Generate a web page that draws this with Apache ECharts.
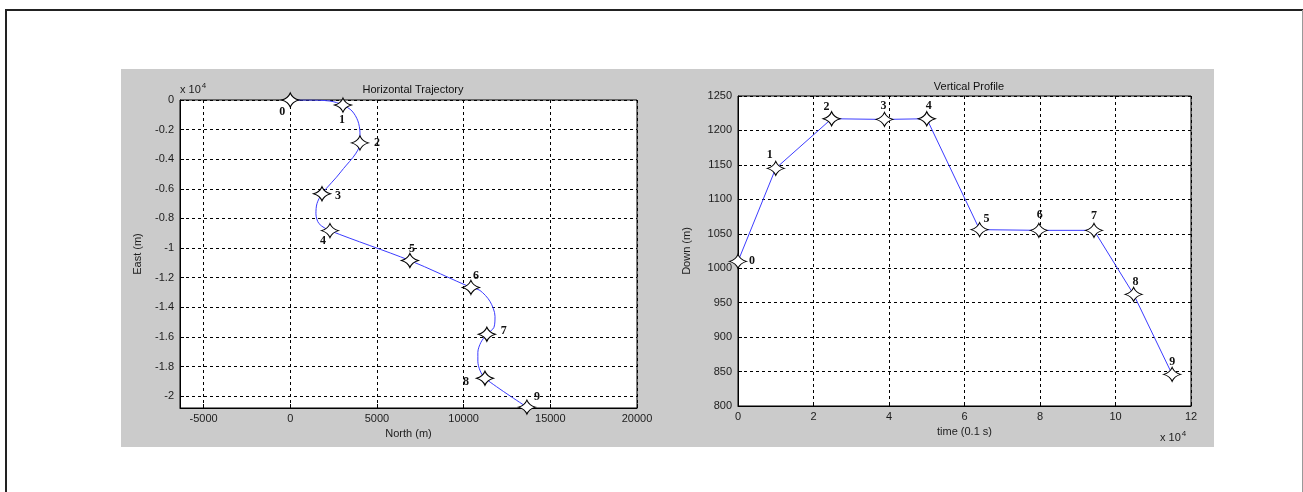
<!DOCTYPE html>
<html>
<head>
<meta charset="utf-8">
<script src="https://cdn.jsdelivr.net/npm/echarts@6/dist/echarts.min.js"></script>
<style>html,body{margin:0;padding:0;background:#fff;}#c{width:1303px;height:492px;}</style>
</head>
<body>
<div id="c"></div>
<script>
// ---- Data ----
const wpLabels = ['0','1','2','3','4','5','6','7','8','9'];
// Horizontal trajectory waypoints: North (m), East (x1e4 m)
const hWpNorth = [0, 3040, 4020, 1830, 2290, 6900, 10420, 11340, 11230, 13650];
const hWpEast  = [0, -0.034, -0.29, -0.633, -0.882, -1.084, -1.266, -1.582, -1.879, -2.074];
// Horizontal trajectory path
const hPathNorth = [0, 850, 2290, 3040, 3560, 3900, 4020, 4020, 2920, 1830, 1540, 1480, 1660, 2290, 6900, 10420, 10940, 11520, 11810, 11750, 11340, 11000, 10820, 10820, 10940, 11230, 13650];
const hPathEast  = [0, 0, -0.007, -0.034, -0.074, -0.141, -0.222, -0.29, -0.485, -0.633, -0.70, -0.768, -0.835, -0.882, -1.084, -1.266, -1.286, -1.36, -1.461, -1.535, -1.582, -1.636, -1.704, -1.764, -1.825, -1.879, -2.074];
// Vertical profile: time (x1e4, 0.1 s), Down (m)
const vTime = [0, 1.0, 2.48, 3.88, 5.0, 6.4, 7.97, 9.43, 10.48, 11.5];
const vDown = [1010, 1145, 1217, 1216, 1217, 1056, 1055, 1055, 962, 846];
// Tick labels
const hNorthTicks = [-5000, 0, 5000, 10000, 15000, 20000];
const hEastTicks = [0, -0.2, -0.4, -0.6, -0.8, -1, -1.2, -1.4, -1.6, -1.8, -2];

// ---- Styles ----
const hLabelOffsets = [[-8,12],[-1,15],[17,0],[16,2],[-7,10],[2,-12],[5,-12],[17,-3],[-19,4],[10,-10]];
const vLabelOffsets = [[14,0],[-6,-13],[-5,-12],[-1,-14],[2,-13],[7,-11],[1,-15],[0,-14],[2,-12],[0,-12]];
const STAR = 'path://M0,-8 Q2,-2 8,0 Q2,2 0,8 Q-2,2 -8,0 Q-2,-2 0,-8 Z';
const FONT = 'Liberation Sans, Arial, sans-serif';
const lineColor = '#3c3cff';
const tickColor = '#1c1c1c';
const gridDash = {color:'#000', type:[3,3], width:1};
const plain = v => String(v);

function wpData(xs, ys, offs){
  return xs.map((x,i)=>({value:[x, ys[i]], label:{offset: offs[i]}, name: wpLabels[i]}));
}
const wpLabel = {show:true, position:'inside', formatter:p=>p.name, fontFamily:'Liberation Serif, Times New Roman, serif', fontWeight:'bold', fontSize:12, color:'#111'};

const chart = echarts.init(document.getElementById('c'));
chart.setOption({
  animation:false,
  backgroundColor:'#fff',
  graphic:[
    {type:'rect', shape:{x:121,y:69,width:1093,height:378}, style:{fill:'#cbcbcb'}, z:-10},
    {type:'line', shape:{x1:5,y1:10,x2:1303,y2:10}, style:{stroke:'#222',lineWidth:2}, z:-10},
    {type:'line', shape:{x1:6,y1:9,x2:6,y2:492}, style:{stroke:'#222',lineWidth:2}, z:-10},
    {type:'line', shape:{x1:1302.5,y1:10,x2:1302.5,y2:492}, style:{stroke:'#999',lineWidth:1}, z:-10},
    {type:'text', left:180, top:82, style:{text:'x 10{s|4}', rich:{s:{fontSize:8, verticalAlign:'top', padding:[0,0,8,1], fontFamily:FONT, fill:tickColor}}, font:'11px '+FONT, fill:tickColor}},
    {type:'text', left:1160, top:430, style:{text:'x 10{s|4}', rich:{s:{fontSize:8, verticalAlign:'top', padding:[0,0,8,1], fontFamily:FONT, fill:tickColor}}, font:'11px '+FONT, fill:tickColor}}
  ],
  title:[
    {text:'Horizontal Trajectory', left:408, top:79, textAlign:'center', textStyle:{fontFamily:FONT, fontSize:11, fontWeight:'normal', color:'#111'}},
    {text:'Vertical Profile', left:964, top:76, textAlign:'center', textStyle:{fontFamily:FONT, fontSize:11, fontWeight:'normal', color:'#111'}}
  ],
  grid:[
    {left:180, top:100, width:457, height:308, show:true, backgroundColor:'#fff', borderColor:'#000', borderWidth:1},
    {left:738, top:96, width:453, height:310, show:true, backgroundColor:'#fff', borderColor:'#000', borderWidth:1}
  ],
  xAxis:[
    {gridIndex:0, type:'value', min:-6360, max:20000,
     name:'North (m)', nameLocation:'middle', nameGap:17, nameTextStyle:{fontFamily:FONT,fontSize:11,color:tickColor},
     axisLine:{show:true, onZero:false, lineStyle:{color:'#000'}},
     axisTick:{show:true, inside:true, length:4, customValues:hNorthTicks, lineStyle:{color:'#000'}},
     axisLabel:{customValues:hNorthTicks, formatter:plain, fontFamily:FONT, fontSize:11, color:tickColor, margin:5},
     splitLine:{show:true, lineStyle:gridDash}},
    {gridIndex:1, type:'value', min:0, max:12, interval:2,
     name:'time (0.1 s)', nameLocation:'middle', nameGap:18, nameTextStyle:{fontFamily:FONT,fontSize:11,color:tickColor},
     axisLine:{show:true, onZero:false, lineStyle:{color:'#000'}},
     axisTick:{show:true, inside:true, length:4, lineStyle:{color:'#000'}},
     axisLabel:{formatter:plain, fontFamily:FONT, fontSize:11, color:tickColor, margin:5},
     splitLine:{show:true, lineStyle:gridDash}}
  ],
  yAxis:[
    {gridIndex:0, type:'value', min:-2.08, max:0,
     name:'East (m)', nameLocation:'middle', nameGap:37, nameTextStyle:{fontFamily:FONT,fontSize:11,color:tickColor},
     axisLine:{show:true, onZero:false, lineStyle:{color:'#000'}},
     axisTick:{show:true, inside:true, length:4, customValues:hEastTicks, lineStyle:{color:'#000'}},
     axisLabel:{customValues:hEastTicks, formatter:plain, fontFamily:FONT, fontSize:11, color:tickColor, margin:6},
     splitLine:{show:true, lineStyle:gridDash}},
    {gridIndex:1, type:'value', min:800, max:1250, interval:50,
     name:'Down (m)', nameLocation:'middle', nameGap:46, nameTextStyle:{fontFamily:FONT,fontSize:11,color:tickColor},
     axisLine:{show:true, onZero:false, lineStyle:{color:'#000'}},
     axisTick:{show:true, inside:true, length:4, lineStyle:{color:'#000'}},
     axisLabel:{formatter:plain, fontFamily:FONT, fontSize:11, color:tickColor, margin:6},
     splitLine:{show:true, lineStyle:gridDash}}
  ],
  series:[
    {type:'line', xAxisIndex:0, yAxisIndex:0, data:hPathNorth.map((x,i)=>[x,hPathEast[i]]), smooth:0.3, showSymbol:false, lineStyle:{color:lineColor,width:1}, z:3},
    {type:'scatter', xAxisIndex:0, yAxisIndex:0, clip:false, data:wpData(hWpNorth,hWpEast,hLabelOffsets), symbol:STAR, symbolSize:[17,14], itemStyle:{color:'#fff', borderColor:'#000', borderWidth:1, opacity:1}, label:wpLabel, z:5},
    {type:'line', xAxisIndex:1, yAxisIndex:1, data:vTime.map((x,i)=>[x,vDown[i]]), showSymbol:false, lineStyle:{color:lineColor,width:1}, z:3},
    {type:'scatter', xAxisIndex:1, yAxisIndex:1, clip:false, data:wpData(vTime,vDown,vLabelOffsets), symbol:STAR, symbolSize:[17,14], itemStyle:{color:'#fff', borderColor:'#000', borderWidth:1, opacity:1}, label:wpLabel, z:5}
  ]
});
</script>
</body>
</html>
